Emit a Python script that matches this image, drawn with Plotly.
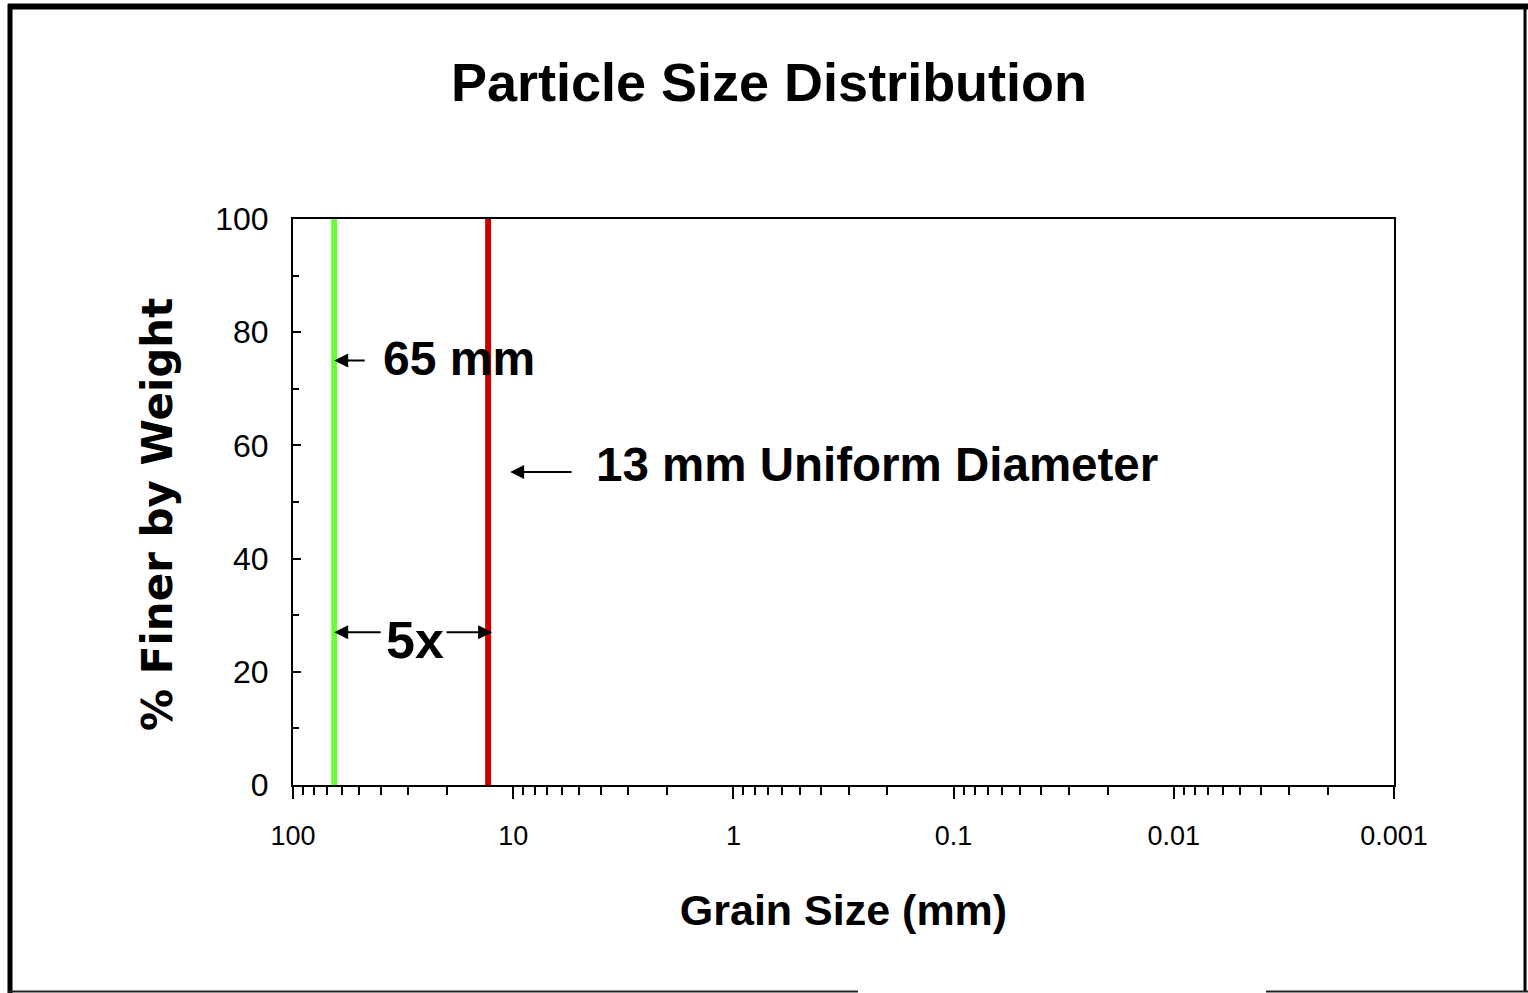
import math
import plotly.graph_objects as go

# Grain-size curves: two uniform soils shown as vertical lines (% finer jumps 0 -> 100)
coarse_size_mm = [65, 65]
uniform_size_mm = [13, 13]
percent_finer = [0, 100]

x_tick_values = [100, 10, 1, 0.1, 0.01, 0.001]
x_tick_labels = ["100", "10", "1", "0.1", "0.01", "0.001"]
y_tick_values = [0, 20, 40, 60, 80, 100]

W, H = 1528, 993
L, R, T, B = 293, 1394, 219, 785


def px(x):
    return (x - L) / (R - L)


def py(y):
    return (B - y) / (B - T)


REG = "Arial, Liberation Sans, sans-serif"
BOLD = "Arial, Liberation Sans, sans-serif"
WIDE = "Verdana, DejaVu Sans, sans-serif"

fig = go.Figure()
fig.add_trace(go.Scatter(x=coarse_size_mm, y=percent_finer, mode="lines",
                         line=dict(color="#66FF33", width=6), showlegend=False,
                         hoverinfo="skip"))
fig.add_trace(go.Scatter(x=uniform_size_mm, y=percent_finer, mode="lines",
                         line=dict(color="#CC0000", width=6), showlegend=False,
                         hoverinfo="skip"))

lx65 = math.log10(coarse_size_mm[0])
lx13 = math.log10(uniform_size_mm[0])

arrow = dict(showarrow=True, arrowhead=2, arrowsize=1.4, arrowwidth=2,
             arrowcolor="black", axref="pixel", ayref="pixel", ay=0, text="",
             xref="x", yref="y", standoff=0)

annotations = [
    # 65 mm label
    dict(arrow, x=lx65, y=75, ax=32),
    dict(x=lx65, y=75, xshift=47, yshift=2, text="<b>65 mm</b>", showarrow=False,
         xanchor="left", yanchor="middle", font=dict(family=BOLD, size=48, color="black")),
    # 13 mm label
    dict(arrow, x=lx13, y=55.3, ax=63, xshift=22),
    dict(x=lx13, y=55.3, xshift=106, yshift=8, text="<b>13 mm Uniform Diameter</b>",
         showarrow=False, xanchor="left", yanchor="middle",
         font=dict(family=BOLD, size=47.5, color="black")),
    # 5x ratio between the two sizes
    dict(arrow, x=lx65, y=27, ax=48),
    dict(arrow, x=lx13, y=27, ax=-47, xshift=4),
    dict(x=lx65, y=27, xshift=81, yshift=-8, text="<b>5x</b>", showarrow=False,
         xanchor="center", yanchor="middle", font=dict(family=BOLD, size=52, color="black")),
    # y axis title
    dict(x=px(157), y=py(515), xref="paper", yref="paper", text="<b>% Finer by Weight</b>",
         textangle=-90, showarrow=False, xanchor="center", yanchor="middle",
         font=dict(family=WIDE, size=42, color="black")),
]

# outer frame
frame = dict(type="line", xref="paper", yref="paper", line=dict(color="black"))
shapes = [
    dict(frame, x0=px(10), x1=px(10), y0=py(4), y1=py(993), line=dict(color="black", width=5)),
    dict(frame, x0=px(8), x1=px(1528), y0=py(6.5), y1=py(6.5), line=dict(color="black", width=6)),
    dict(frame, x0=px(1525), x1=px(1525), y0=py(4), y1=py(991), line=dict(color="black", width=3)),
    dict(frame, x0=px(8), x1=px(858), y0=py(991.5), y1=py(991.5), line=dict(color="#222222", width=2)),
    dict(frame, x0=px(1266), x1=px(1528), y0=py(991.5), y1=py(991.5), line=dict(color="#222222", width=2)),
]

fig.update_layout(
    width=W, height=H,
    margin=dict(l=L, r=W - R, t=T, b=H - B),
    paper_bgcolor="white", plot_bgcolor="white",
    title=dict(text="<b>Particle Size Distribution</b>", x=769 / W, xanchor="center",
               y=1 - 82 / H, yanchor="middle", xref="container", yref="container",
               font=dict(family=BOLD, size=54, color="black")),
    annotations=annotations,
    shapes=shapes,
    showlegend=False,
)

fig.update_xaxes(
    type="log", range=[2, -3], tickvals=x_tick_values, ticktext=x_tick_labels,
    ticks="outside", ticklen=12, tickwidth=2, tickcolor="black",
    minor=dict(ticks="outside", ticklen=8, tickwidth=2, tickcolor="black", dtick="D1"),
    showline=True, linewidth=2, linecolor="black", mirror=True,
    showgrid=False, zeroline=False,
    tickfont=dict(family=REG, size=27, color="black"), ticklabelstandoff=14,
    title=dict(text="<b>Grain Size (mm)</b>", font=dict(family=BOLD, size=43, color="black"),
               standoff=44),
)
fig.update_yaxes(
    range=[0, 100], tickvals=y_tick_values,
    ticks="inside", ticklen=8, tickwidth=2, tickcolor="black",
    minor=dict(ticks="inside", ticklen=6, tickwidth=2, tickcolor="black", dtick=10),
    showline=True, linewidth=2, linecolor="black", mirror=True,
    showgrid=False, zeroline=False,
    tickfont=dict(family=REG, size=32, color="black"), ticklabelstandoff=16,
)

fig.write_html("out.html")
